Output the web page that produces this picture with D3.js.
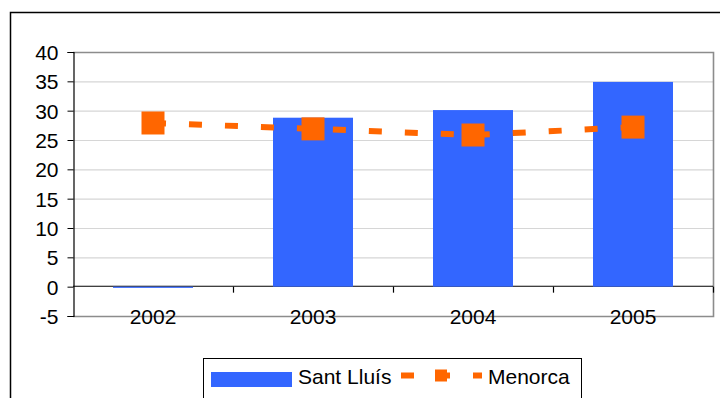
<!DOCTYPE html>
<html>
<head>
<meta charset="utf-8">
<script src="https://cdn.jsdelivr.net/npm/d3@7"></script>
<style>
  html, body { margin: 0; padding: 0; background: #fff; }
  svg { display: block; font-family: "Liberation Sans", Arial, sans-serif; }
</style>
</head>
<body>
<svg id="chart" width="720" height="398"></svg>
<script>
// Chart data
const years = ["2002", "2003", "2004", "2005"];
const santLluis = [-0.2, 28.8, 30.1, 34.9];
const menorca = [27.9, 26.9, 25.85, 27.2];
const yTicks = [-5, 0, 5, 10, 15, 20, 25, 30, 35, 40];
const seriesNames = ["Sant Lluís", "Menorca"];

const blue = "#3366FF";
const orange = "#FF6600";
const fontSize = 21;

const svg = d3.select("#chart");

// Outer chart frame (runs past the window on the right and bottom)
svg.append("rect")
  .attr("x", 10.5).attr("y", 12.5)
  .attr("width", 740).attr("height", 420)
  .attr("fill", "#fff")
  .attr("stroke", "#000").attr("stroke-width", 1.5);

const plot = { left: 73, top: 52, right: 713, bottom: 316 };

const x = d3.scaleBand()
  .domain(years)
  .range([plot.left, plot.right])
  .paddingInner(0.5)
  .paddingOuter(0.25);

const xBand = d3.scaleBand().domain(years).range([plot.left, plot.right]);

const y = d3.scaleLinear()
  .domain([d3.min(yTicks), d3.max(yTicks)])
  .range([plot.bottom, plot.top]);

// Horizontal gridlines
svg.append("g")
  .selectAll("line")
  .data(yTicks.filter(t => t !== 0 && t !== -5 && t !== 40))
  .join("line")
  .attr("x1", plot.left).attr("x2", plot.right)
  .attr("y1", d => y(d) + 0.5).attr("y2", d => y(d) + 0.5)
  .attr("stroke", "#d6d6d6").attr("stroke-width", 1.2);

// Plot area border (top, right, bottom)
svg.append("path")
  .attr("d", `M${plot.left},${plot.top + 0.5}H${plot.right + 0.5}V${plot.bottom + 0.5}H${plot.left}`)
  .attr("fill", "none")
  .attr("stroke", "#8c8c8c").attr("stroke-width", 1.6);

// X axis on the zero line, ticks at category boundaries
svg.append("line")
  .attr("x1", plot.left).attr("x2", plot.right)
  .attr("y1", y(0) - 0.4).attr("y2", y(0) - 0.4)
  .attr("stroke", "#000").attr("stroke-width", 1.2);

// Bars
svg.append("g")
  .selectAll("rect")
  .data(years.map((yr, i) => ({ yr, v: santLluis[i] })))
  .join("rect")
  .attr("x", d => x(d.yr))
  .attr("width", x.bandwidth())
  .attr("y", d => y(Math.max(0, d.v)))
  .attr("height", d => Math.max(1.2, Math.abs(y(d.v) - y(0))))
  .attr("fill", blue);

// Y axis
const yAxis = d3.axisLeft(y)
  .tickValues(yTicks)
  .tickFormat(d => String(d))
  .tickSize(6)
  .tickPadding(9);
const gy = svg.append("g")
  .attr("transform", `translate(${plot.left + 0.5},0)`)
  .call(yAxis);
gy.select(".domain").attr("stroke", "#000").attr("stroke-width", 1.2);
gy.selectAll(".tick line").attr("stroke", "#000");
gy.selectAll(".tick text")
  .attr("font-size", fontSize)
  .attr("font-family", "Liberation Sans, Arial, sans-serif")
  .attr("fill", "#000")
  .attr("dy", "0.36em");

svg.append("g")
  .selectAll("line")
  .data(years.slice(1).map(yr => xBand(yr)).concat([plot.right]))
  .join("line")
  .attr("x1", d => d + 0.5).attr("x2", d => d + 0.5)
  .attr("y1", y(0)).attr("y2", y(0) + 6)
  .attr("stroke", "#000").attr("stroke-width", 1.2);

svg.append("g")
  .selectAll("text")
  .data(years)
  .join("text")
  .attr("x", d => xBand(d) + xBand.bandwidth() / 2)
  .attr("y", 323.5)
  .attr("text-anchor", "middle")
  .attr("font-size", fontSize)
  .attr("fill", "#000")
  .text(d => d);

// Menorca dashed line with square markers
const pts = years.map((yr, i) => [xBand(yr) + xBand.bandwidth() / 2, y(menorca[i])]);
svg.append("path")
  .attr("d", d3.line()(pts))
  .attr("fill", "none")
  .attr("stroke", orange)
  .attr("stroke-width", 6)
  .attr("stroke-dasharray", "13,23");

const mk = 23;
svg.append("g")
  .selectAll("rect")
  .data(pts)
  .join("rect")
  .attr("x", d => d[0] - mk / 2)
  .attr("y", d => d[1] - mk / 2)
  .attr("width", mk).attr("height", mk)
  .attr("fill", orange);

// Legend
const lg = svg.append("g");
lg.append("rect")
  .attr("x", 203.5).attr("y", 358.5)
  .attr("width", 378).attr("height", 60)
  .attr("fill", "#fff")
  .attr("stroke", "#000").attr("stroke-width", 1);

lg.append("rect")
  .attr("x", 211).attr("y", 372)
  .attr("width", 81).attr("height", 15)
  .attr("fill", blue);
lg.append("text")
  .attr("x", 298).attr("y", 383.5)
  .attr("font-size", fontSize)
  .attr("fill", "#000")
  .text(seriesNames[0]);

lg.append("line")
  .attr("x1", 401).attr("x2", 482)
  .attr("y1", 375.5).attr("y2", 375.5)
  .attr("stroke", orange)
  .attr("stroke-width", 6)
  .attr("stroke-dasharray", "13,23");
lg.append("rect")
  .attr("x", 435).attr("y", 369.5)
  .attr("width", 12).attr("height", 12)
  .attr("fill", orange);
lg.append("text")
  .attr("x", 488).attr("y", 383.5)
  .attr("font-size", fontSize)
  .attr("fill", "#000")
  .text(seriesNames[1]);
</script>
</body>
</html>
